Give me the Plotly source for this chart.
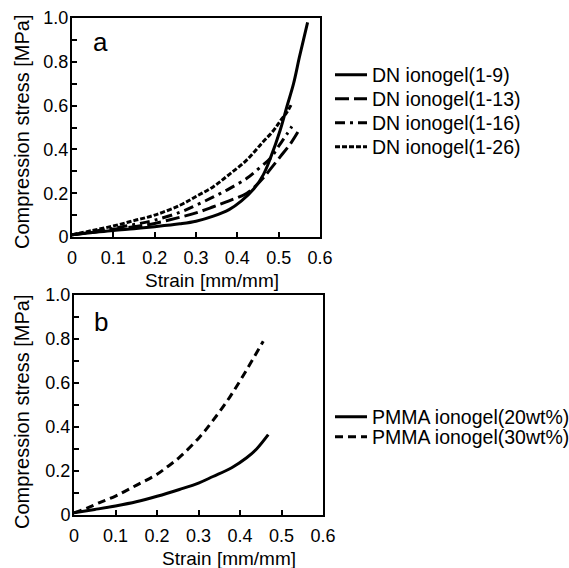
import plotly.graph_objects as go

W, H = 569, 568

# ---- data (panel a) ----
x_1_9 = [0, 0.05, 0.1, 0.15, 0.2, 0.261, 0.3, 0.342, 0.38, 0.41, 0.44, 0.463, 0.48, 0.504, 0.52, 0.536, 0.55, 0.56, 0.57]
y_1_9 = [0.01, 0.02, 0.03, 0.038, 0.047, 0.06, 0.072, 0.095, 0.125, 0.165, 0.22, 0.285, 0.36, 0.49, 0.596, 0.70, 0.82, 0.90, 0.98]

x_1_13 = [0, 0.05, 0.1, 0.15, 0.2, 0.261, 0.3, 0.342, 0.38, 0.423, 0.447, 0.463, 0.48, 0.504, 0.53, 0.552]
y_1_13 = [0.01, 0.022, 0.035, 0.047, 0.062, 0.09, 0.11, 0.138, 0.165, 0.2, 0.238, 0.27, 0.31, 0.367, 0.43, 0.497]

x_1_16 = [0, 0.05, 0.1, 0.15, 0.2, 0.261, 0.3, 0.342, 0.38, 0.423, 0.45, 0.48, 0.5, 0.52, 0.532]
y_1_16 = [0.01, 0.025, 0.04, 0.057, 0.077, 0.113, 0.145, 0.183, 0.22, 0.268, 0.31, 0.36, 0.415, 0.47, 0.505]

x_1_26 = [0, 0.05, 0.1, 0.15, 0.2, 0.261, 0.3, 0.342, 0.38, 0.423, 0.46, 0.487, 0.504, 0.52, 0.532]
y_1_26 = [0.01, 0.03, 0.05, 0.075, 0.1, 0.145, 0.185, 0.23, 0.285, 0.352, 0.43, 0.485, 0.53, 0.57, 0.61]

# ---- data (panel b) ----
x_20 = [0, 0.05, 0.1, 0.15, 0.2, 0.254, 0.3, 0.335, 0.38, 0.416, 0.44, 0.468]
y_20 = [0.01, 0.025, 0.041, 0.06, 0.085, 0.116, 0.145, 0.175, 0.215, 0.26, 0.30, 0.365]

x_30 = [0, 0.03, 0.06, 0.1, 0.15, 0.2, 0.222, 0.254, 0.303, 0.335, 0.375, 0.416, 0.456]
y_30 = [0.01, 0.03, 0.055, 0.086, 0.135, 0.185, 0.215, 0.262, 0.355, 0.43, 0.535, 0.66, 0.79]

names_a = ["DN ionogel(1-9)", "DN ionogel(1-13)", "DN ionogel(1-16)", "DN ionogel(1-26)"]
names_b = ["PMMA ionogel(20wt%)", "PMMA ionogel(30wt%)"]

x_ticks = [0, 0.1, 0.2, 0.3, 0.4, 0.5, 0.6]
x_labels = ["0", "0.1", "0.2", "0.3", "0.4", "0.5", "0.6"]
y_ticks = [0, 0.2, 0.4, 0.6, 0.8, 1.0]
y_labels = ["0", "0.2", "0.4", "0.6", "0.8", "1.0"]

FONT = "Liberation Sans, Arial, sans-serif"
LW = 3

fig = go.Figure()

series_a = [(x_1_9, y_1_9, "solid"), (x_1_13, y_1_13, "14px,5px"),
            (x_1_16, y_1_16, "10px,5px,3px,5px"), (x_1_26, y_1_26, "5px,2px")]
for i, ((xs, ys, dash), nm) in enumerate(zip(series_a, names_a)):
    fig.add_trace(go.Scatter(x=xs, y=ys, mode="lines", name=nm,
                             line=dict(color="black", width=LW, dash=dash, shape="spline"),
                             xaxis="x", yaxis="y", legend=("legend" if i == 0 else f"legend{i+1}")))

series_b = [(x_20, y_20, "solid"), (x_30, y_30, "8px,5px")]
for j, ((xs, ys, dash), nm) in enumerate(zip(series_b, names_b)):
    fig.add_trace(go.Scatter(x=xs, y=ys, mode="lines", name=nm,
                             line=dict(color="black", width=LW, dash=dash, shape="spline"),
                             xaxis="x2", yaxis="y2", legend=f"legend{j+5}"))

def px_x(p):
    return p / W

def px_y(p):
    return 1 - p / H

axis_common = dict(showgrid=False, zeroline=False, showline=True, linecolor="black",
                   linewidth=2, mirror=True, ticks="inside", ticklen=5, tickwidth=1.5,
                   tickcolor="black", automargin=False,
                   tickfont=dict(family=FONT, size=18, color="black"))

xa = dict(axis_common, range=[0, 0.6], tickvals=x_ticks, ticktext=x_labels,
          ticklabelstandoff=3)
ya = dict(axis_common, range=[0, 1.0], tickvals=y_ticks, ticktext=y_labels,
          ticklabelstandoff=-2,
          minor=dict(ticks="inside", dtick=0.1, ticklen=5, tickwidth=1.5, tickcolor="black"))

layout = dict(
    width=W, height=H, margin=dict(l=0, r=0, t=0, b=0, autoexpand=False),
    paper_bgcolor="white", plot_bgcolor="white",
    xaxis=dict(xa, domain=[px_x(72), px_x(320)], anchor="y"),
    yaxis=dict(ya, domain=[px_y(237), px_y(18)], anchor="x"),
    xaxis2=dict(xa, domain=[px_x(74), px_x(323)], anchor="y2"),
    yaxis2=dict(ya, domain=[px_y(515), px_y(295)], anchor="x2"),
    showlegend=True,
)

leg_rows = [75, 99, 123, 147, 417, 437]
for k, row in enumerate(leg_rows):
    key = "legend" if k == 0 else f"legend{k+1}"
    layout[key] = dict(x=px_x(330), xanchor="left", y=px_y(row), yanchor="middle",
                       bgcolor="rgba(0,0,0,0)", borderwidth=0, itemwidth=32,
                       font=dict(family=FONT, size=19.5, color="black"))

fig.update_layout(**layout)

ann = [
    dict(text="a", x=px_x(100), y=px_y(42), size=26),
    dict(text="b", x=px_x(101), y=px_y(322), size=26),
    dict(text="Strain [mm/mm]", x=px_x(212), y=px_y(280), size=19),
    dict(text="Strain [mm/mm]", x=px_x(229), y=px_y(558), size=19),
]
for a in ann:
    fig.add_annotation(text=a["text"], x=a["x"], y=a["y"], xref="paper", yref="paper",
                       showarrow=False, xanchor="center", yanchor="middle",
                       font=dict(family=FONT, size=a["size"], color="black"))
for yc in [132, 412]:
    fig.add_annotation(text="Compression stress [MPa]", x=px_x(22), y=px_y(yc),
                       xref="paper", yref="paper", showarrow=False, textangle=-90,
                       xanchor="center", yanchor="middle",
                       font=dict(family=FONT, size=20, color="black"))

fig.write_html("out.html", post_script="document.body.style.margin='0px';",
               config={"displayModeBar": False})
